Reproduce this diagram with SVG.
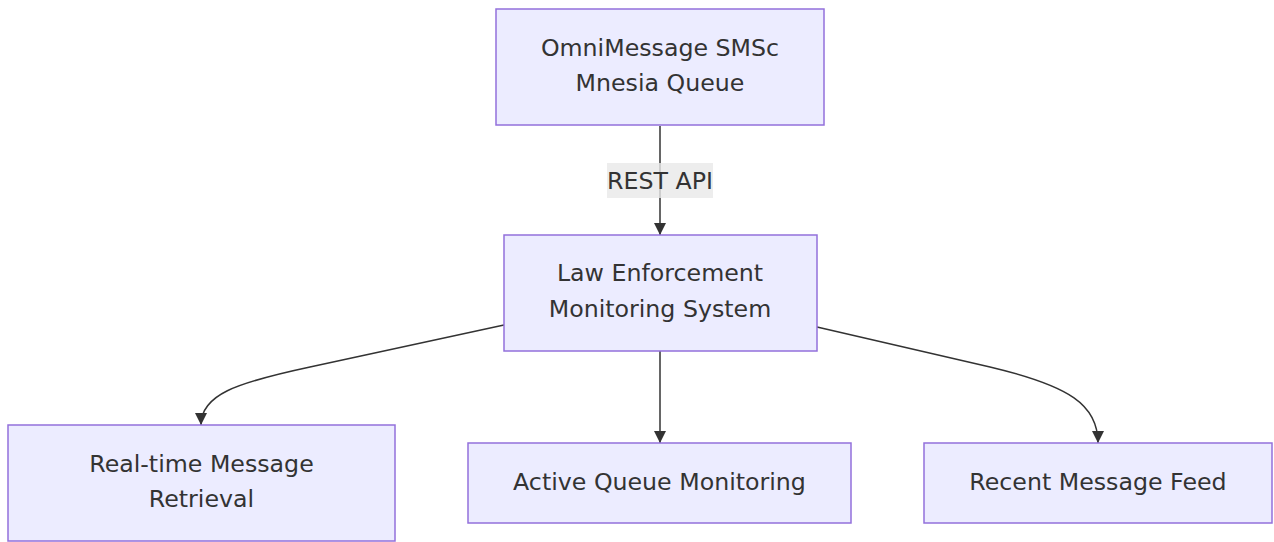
<svg xmlns="http://www.w3.org/2000/svg" width="1274" height="542" viewBox="0 0 1274 542">
<style>
.node rect{fill:#ECECFF;stroke:#9370DB;stroke-width:1.5}
.node text,.lbl text{font-family:"DejaVu Sans",sans-serif;font-size:23.7px;fill:#333;text-anchor:middle;dominant-baseline:central}
.edge{fill:none;stroke:#333;stroke-width:1.5;marker-end:url(#arr)}
.lbl rect{fill:#e8e8e8;opacity:0.8}
</style>
<defs>
<marker id="arr" viewBox="0 0 10 10" refX="10" refY="5" markerWidth="12" markerHeight="12" markerUnits="userSpaceOnUse" orient="auto">
<path d="M0,0 L10,5 L0,10 z" fill="#333"/>
</marker>
</defs>
<g id="edges">
<path class="edge" d="M660,126 L660,235"/>
<path class="edge" d="M660,351 L660,443"/>
<path class="edge" d="M504,325 L310,367 C235,383 201,395 201,425"/>
<path class="edge" d="M817,327 L990,367 C1070,386 1098,405 1098,443"/>
<g class="lbl"><rect x="607" y="163" width="106" height="35"/><text x="660" y="181">REST API</text></g>
</g>
<g id="n1" class="node"><rect x="496" y="9" width="328" height="116"/><text x="660" y="48">OmniMessage SMSc</text><text x="660" y="83">Mnesia Queue</text></g>
<g id="n2" class="node"><rect x="504" y="235" width="313" height="116"/><text x="660" y="273">Law Enforcement</text><text x="660" y="309">Monitoring System</text></g>
<g id="n3" class="node"><rect x="8" y="425" width="387" height="116"/><text x="201.5" y="464">Real-time Message</text><text x="201.5" y="499">Retrieval</text></g>
<g id="n4" class="node"><rect x="468" y="443" width="383" height="80"/><text x="659.5" y="482">Active Queue Monitoring</text></g>
<g id="n5" class="node"><rect x="924" y="443" width="348" height="80"/><text x="1098" y="482">Recent Message Feed</text></g>
</svg>
